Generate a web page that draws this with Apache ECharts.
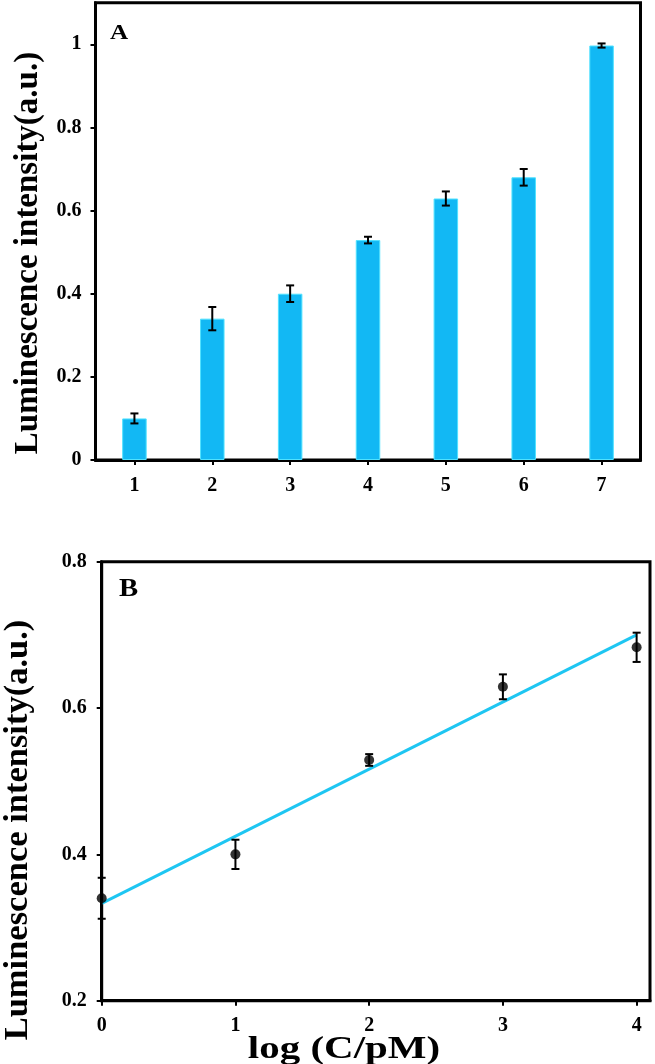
<!DOCTYPE html>
<html>
<head>
<meta charset="utf-8">
<script src="https://cdn.jsdelivr.net/npm/echarts@6/dist/echarts.min.js"></script>
<style>
html,body{margin:0;padding:0;background:#fff;}
#chart{width:655px;height:1064px;}
</style>
</head>
<body>
<div id="chart"></div>
<script>
// ---- Data ----
const barCategories = ['1', '2', '3', '4', '5', '6', '7'];
const barValues = [0.100, 0.340, 0.400, 0.529, 0.629, 0.680, 0.997];
const barErrors = [0.012, 0.028, 0.020, 0.008, 0.017, 0.020, 0.005];
const yTicksA = [0, 0.2, 0.4, 0.6, 0.8, 1];

const logConc = [0, 1, 2, 3, 4];
const linValues = [0.340, 0.400, 0.529, 0.629, 0.683];
const linErrors = [0.028, 0.020, 0.008, 0.017, 0.020];
const fitX = [0, 4];
const fitY = [0.333, 0.700];
const xTicksB = [0, 1, 2, 3, 4];
const yTicksB = [0.2, 0.4, 0.6, 0.8];

const yTitle = 'Luminescence intensity(a.u.)';
const xTitleB = 'log (C/pM)';
const panelA = 'A';
const panelB = 'B';

// ---- Styling ----
const FONT = '"Liberation Serif", "Times New Roman", serif';
const tickFont = { fontFamily: FONT, fontWeight: 'bold', fontSize: 20, color: '#000' };
const axisLine = { show: true, lineStyle: { color: '#000', width: 3 } };
const axisTick = (vals) => ({ show: true, inside: false, length: 5, lineStyle: { color: '#000', width: 2 }, customValues: vals });

function errorBar(params, api) {
  const x = api.value(0), y = api.value(1), e = api.value(2);
  const top = api.coord([x, y + e]);
  const bot = api.coord([x, y - e]);
  const hw = 4;
  const st = { stroke: '#000', lineWidth: 2 };
  return {
    type: 'group',
    children: [
      { type: 'line', shape: { x1: top[0], y1: top[1], x2: bot[0], y2: bot[1] }, style: st },
      { type: 'line', shape: { x1: top[0] - hw, y1: top[1], x2: top[0] + hw, y2: top[1] }, style: st },
      { type: 'line', shape: { x1: bot[0] - hw, y1: bot[1], x2: bot[0] + hw, y2: bot[1] }, style: st }
    ]
  };
}

const chart = echarts.init(document.getElementById('chart'), null, { renderer: 'canvas' });

const option = {
  animation: false,
  backgroundColor: '#fff',
  grid: [
    { left: 95.5, right: 14.5, top: 2.7, height: 457.3, show: true, borderColor: '#000', borderWidth: 3, backgroundColor: 'transparent' },
    { left: 101.7, right: 5, top: 561.7, height: 439, show: true, borderColor: '#000', borderWidth: 3, backgroundColor: 'transparent' }
  ],
  xAxis: [
    {
      gridIndex: 0, type: 'category', data: barCategories, boundaryGap: true,
      axisLine: axisLine,
      axisTick: { show: true, alignWithLabel: true, length: 5, lineStyle: { color: '#000', width: 2 } },
      axisLabel: Object.assign({ margin: 16 }, tickFont),
      splitLine: { show: false }
    },
    {
      gridIndex: 1, type: 'value', min: 0, max: 4.1, interval: 1,
      axisLine: axisLine,
      axisTick: axisTick(xTicksB),
      axisLabel: Object.assign({ margin: 15, customValues: xTicksB }, tickFont),
      splitLine: { show: false }
    }
  ],
  yAxis: [
    {
      gridIndex: 0, type: 'value', min: 0, max: 1.1, interval: 0.2,
      axisLine: axisLine,
      axisTick: axisTick(yTicksA),
      axisLabel: Object.assign({ margin: 14, customValues: yTicksA }, tickFont),
      splitLine: { show: false }
    },
    {
      gridIndex: 1, type: 'value', min: 0.2, max: 0.8, interval: 0.2,
      axisLine: axisLine,
      axisTick: axisTick(yTicksB),
      axisLabel: Object.assign({ margin: 15, customValues: yTicksB }, tickFont),
      splitLine: { show: false }
    }
  ],
  graphic: [
    { type: 'text', x: 28, y: 253, rotation: Math.PI / 2,
      style: { text: yTitle, font: 'bold 33px ' + FONT, fill: '#000', align: 'center', verticalAlign: 'middle' } },
    { type: 'text', x: 18, y: 830, rotation: Math.PI / 2,
      style: { text: yTitle, font: 'bold 34.5px ' + FONT, fill: '#000', align: 'center', verticalAlign: 'middle' } },
    { type: 'text', x: 344, y: 1050, scaleX: 1.28,
      style: { text: xTitleB, font: 'bold 32px ' + FONT, fill: '#000', align: 'center', verticalAlign: 'middle' } },
    { type: 'text', x: 110, y: 34, scaleX: 1.2,
      style: { text: panelA, font: 'bold 21px ' + FONT, fill: '#000', align: 'left', verticalAlign: 'middle' } },
    { type: 'text', x: 119, y: 590, scaleX: 1.15,
      style: { text: panelB, font: 'bold 25px ' + FONT, fill: '#000', align: 'left', verticalAlign: 'middle' } }
  ],
  series: [
    {
      type: 'bar', xAxisIndex: 0, yAxisIndex: 0, data: barValues, barWidth: 24.5,
      itemStyle: { color: '#12B8F4', borderColor: '#50E2FF', borderWidth: 1 }
    },
    {
      type: 'custom', xAxisIndex: 0, yAxisIndex: 0, renderItem: errorBar, z: 5,
      data: barValues.map((v, i) => [i, v, barErrors[i]])
    },
    {
      type: 'line', xAxisIndex: 1, yAxisIndex: 1, data: fitX.map((x, i) => [x, fitY[i]]),
      showSymbol: false, symbol: 'none', lineStyle: { color: '#1EC6F2', width: 3 }, z: 3
    },
    {
      type: 'custom', xAxisIndex: 1, yAxisIndex: 1, renderItem: errorBar, z: 4, clip: false,
      data: logConc.map((x, i) => [x, linValues[i], linErrors[i]])
    },
    {
      type: 'scatter', xAxisIndex: 1, yAxisIndex: 1, data: logConc.map((x, i) => [x, linValues[i]]),
      symbol: 'circle', symbolSize: 10, itemStyle: { color: '#000' }, z: 6, clip: false
    }
  ]
};
chart.setOption(option);
</script>
</body>
</html>
